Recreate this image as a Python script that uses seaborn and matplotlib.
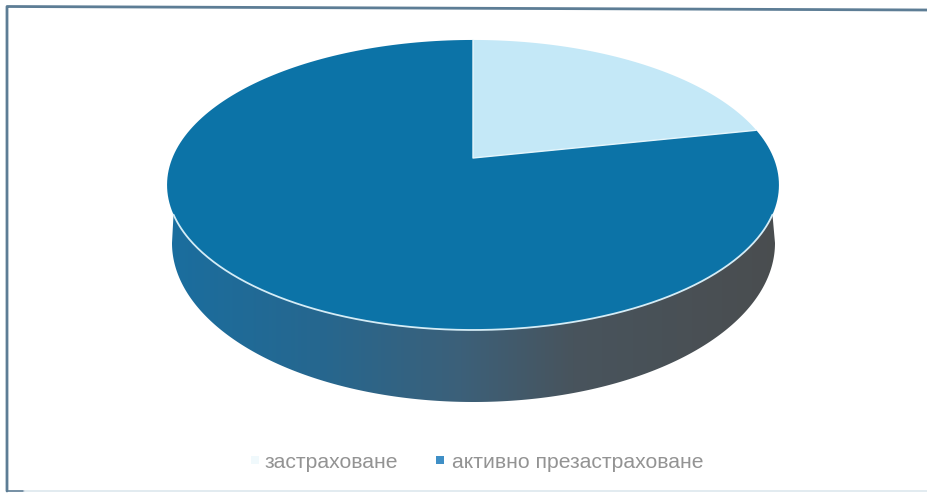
import numpy as np
import matplotlib
matplotlib.use("Agg")
import matplotlib.pyplot as plt
from matplotlib.colors import LinearSegmentedColormap
from matplotlib.patches import Polygon
import seaborn as sns

# Portfolio shares, per cent
categories = ["застраховане", "активно презастраховане"]
shares = [21.7, 78.3]
slice_colors = ["#c4e8f7", "#0c73a7"]

sns.set_theme(style="white")
plt.rcParams["font.family"] = ["Liberation Sans", "DejaVu Sans"]

W, H = 927, 493
fig = plt.figure(figsize=(W / 100, H / 100), dpi=100, facecolor="white")
ax = fig.add_axes([0, 0, 1, 1])
ax.set_xlim(0, W)
ax.set_ylim(H, 0)
ax.axis("off")

# Perspective projection of the unit disc onto the page
CX, CY, A, B, K = 473, 158, 300.6, 140, 0.186
# Lower outline of the disc's side wall
LOW_CX, LOW_CY, LOW_A, LOW_B = 473.5, 243, 301.5, 159
RIM_START_Y = 214


def project(theta):
    px, py = np.cos(theta), np.sin(theta)
    w = 1 + K * py
    return CX + A * px / w, CY - B * py / w


# Angles run clockwise from twelve o'clock
fractions = np.cumsum([0] + shares) / sum(shares)
angles = np.pi / 2 - 2 * np.pi * fractions

# Visible part of the rim, below the widest point of the top face
front = np.linspace(np.pi, 2 * np.pi, 400)
fx, fy = project(front)
visible = fy >= RIM_START_Y
rim_x, rim_y = fx[visible], fy[visible]

# Side wall, shaded from blue on the left to grey on the right
low = np.linspace(np.pi, 2 * np.pi, 300)
low_x = LOW_CX + LOW_A * np.cos(low)
low_y = LOW_CY - LOW_B * np.sin(low)
outline = np.column_stack([np.r_[rim_x, low_x[::-1]], np.r_[rim_y, low_y[::-1]]])
wall_cmap = LinearSegmentedColormap.from_list(
    "wall",
    [(0.0, "#1a6e9f"), (0.25, "#26678f"), (0.48, "#3c6079"),
     (0.66, "#48545d"), (1.0, "#4a4d4f")],
)
wall_shape = Polygon(outline, closed=True, transform=ax.transData, fc="none", ec="none")
ax.add_patch(wall_shape)
gradient = ax.imshow(
    np.linspace(0, 1, 256).reshape(1, -1), cmap=wall_cmap, aspect="auto",
    extent=[165, 783, 410, 205], zorder=1,
)
gradient.set_clip_path(wall_shape)
ax.set_xlim(0, W)
ax.set_ylim(H, 0)

# Top face slices
for start, stop, color in zip(angles[:-1], angles[1:], slice_colors):
    arc = np.linspace(start, stop, 200)
    arc_x, arc_y = project(arc)
    ax.fill(np.r_[CX, arc_x], np.r_[CY, arc_y], color=color, lw=0, zorder=2)

# Pale seam along the straight edges of the small slice
seam_x, seam_y = project(angles[:2])
ax.plot([seam_x[0], CX, seam_x[1]], [seam_y[0], CY, seam_y[1]],
        color="#e6f6fc", lw=1.0, zorder=3)

# Light rim where the top face meets the wall
ax.plot(rim_x, rim_y, color="#d4ecf6", lw=1.3, zorder=3)

# Legend row
ax.scatter([255], [460], marker="s", s=32, color=slice_colors[0], alpha=0.25, lw=0, zorder=3)
ax.scatter([440], [460], marker="s", s=32, color="#3f8fc6", lw=0, zorder=3)
ax.text(265, 462, categories[0], fontsize=15.2, color="#939393", va="center", ha="left")
ax.text(452, 462, categories[1], fontsize=15.2, color="#939393", va="center", ha="left")

# Chart frame: strong top and left edges, faint bottom edge
frame = "#5d7d95"
ax.plot([927, 8, 7, 7], [10, 6.5, 6.5, 491], color=frame, lw=2.0, zorder=4)
ax.plot([7, 24], [491, 491], color=frame, lw=1.2, zorder=4)
ax.plot([24, 927], [490.5, 490.5], color="#dde7ee", lw=1.2, zorder=4)

fig.savefig("out.png", dpi=100, facecolor="white")
